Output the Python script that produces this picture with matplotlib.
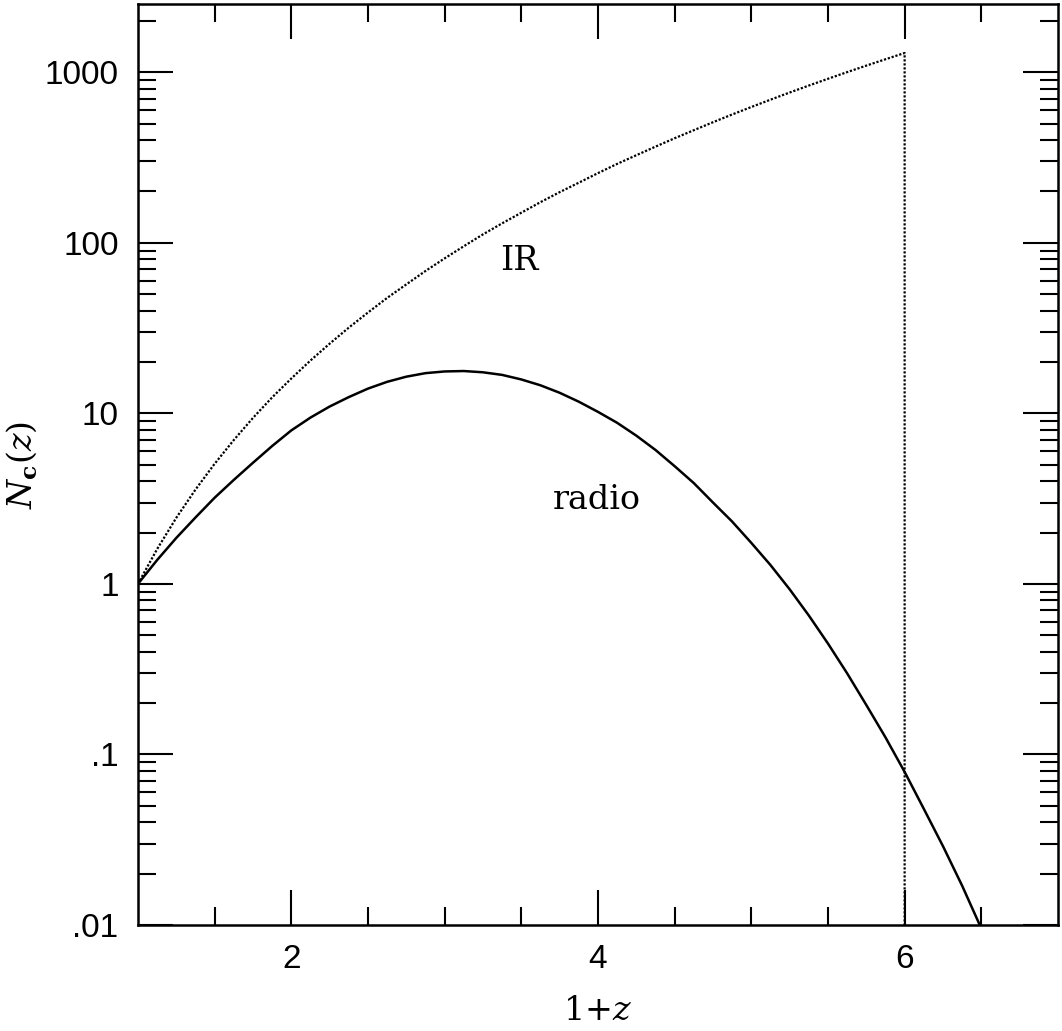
import matplotlib
matplotlib.use("Agg")
import matplotlib.pyplot as plt
from matplotlib.ticker import FixedLocator, FixedFormatter, NullFormatter

plt.rcParams['mathtext.fontset'] = 'dejavuserif'

# ---- data ----
x_radio = [1.0, 1.125, 1.25, 1.375, 1.5, 1.625, 1.75, 1.875, 2.0, 2.125, 2.25, 2.375,
           2.5, 2.625, 2.75, 2.875, 3.0, 3.125, 3.25, 3.375, 3.5, 3.625, 3.75, 3.875,
           4.0, 4.125, 4.25, 4.375, 4.5, 4.625, 4.75, 4.875, 5.0, 5.125, 5.25, 5.375,
           5.5, 5.625, 5.75, 5.875, 6.0, 6.125, 6.25, 6.375, 6.49]
n_radio = [1.0, 1.38, 1.86, 2.45, 3.20, 4.07, 5.13, 6.43, 7.94, 9.44, 10.96, 12.45,
           13.96, 15.3, 16.4, 17.2, 17.6, 17.7, 17.4, 16.8, 15.8, 14.6, 13.2, 11.7,
           10.2, 8.8, 7.4, 6.1, 4.9, 3.9, 3.0, 2.32, 1.74, 1.29, 0.93, 0.653,
           0.447, 0.299, 0.195, 0.126, 0.079, 0.048, 0.029, 0.017, 0.010]

x_ir = [1.0, 1.125, 1.25, 1.375, 1.5, 1.625, 1.75, 1.875, 2.0, 2.125, 2.25, 2.375,
        2.5, 2.625, 2.75, 2.875, 3.0, 3.125, 3.25, 3.375, 3.5, 3.625, 3.75, 3.875,
        4.0, 4.125, 4.25, 4.375, 4.5, 4.625, 4.75, 4.875, 5.0, 5.125, 5.25, 5.375,
        5.5, 5.625, 5.75, 5.875, 6.0, 6.0]
n_ir = [1.0, 1.60, 2.44, 3.57, 5.06, 6.97, 9.4, 12.4, 16.0, 20.4, 25.6, 31.8,
        39.0, 47.5, 57.0, 68.3, 81.0, 95.4, 112.0, 130.0, 150.0, 173.0, 198.0, 225.0,
        256.0, 290.0, 326.0, 366.0, 410.0, 457.0, 509.0, 565.0, 625.0, 690.0, 760.0, 835.0,
        915.0, 1001.0, 1093.0, 1191.0, 1296.0, 0.01]

x_major = [2, 4, 6]
x_major_labels = ["2", "4", "6"]
x_minor = [1.5, 2.5, 3.0, 3.5, 4.5, 5.0, 5.5, 6.5]
y_major = [0.01, 0.1, 1, 10, 100, 1000]
y_major_labels = [".01", ".1", "1", "10", "100", "1000"]

fig = plt.figure(figsize=(10.62, 10.31), dpi=100)
ax = fig.add_axes([0.1299, 0.1028, 0.8663, 0.893])

ax.plot(x_radio, n_radio, color='black', lw=1.8, solid_joinstyle='round')
ax.plot(x_ir, n_ir, color='black', lw=1.6, linestyle=(0, (1, 0.8)))

ax.set_yscale('log')
ax.set_xlim(1, 7)
ax.set_ylim(0.01, 2500)

ax.xaxis.set_major_locator(FixedLocator(x_major))
ax.xaxis.set_major_formatter(FixedFormatter(x_major_labels))
ax.xaxis.set_minor_locator(FixedLocator(x_minor))
ax.xaxis.set_minor_formatter(NullFormatter())

ax.yaxis.set_major_locator(FixedLocator(y_major))
ax.yaxis.set_major_formatter(FixedFormatter(y_major_labels))
y_minor = [m * d for d in [0.01, 0.1, 1, 10, 100, 1000] for m in range(2, 10)]
ax.yaxis.set_minor_locator(FixedLocator(y_minor))
ax.yaxis.set_minor_formatter(NullFormatter())

for s in ax.spines.values():
    s.set_linewidth(1.8)

ax.tick_params(which='both', direction='in', top=True, right=True, width=1.5)
ax.tick_params(which='major', length=25, pad=14)
ax.tick_params(which='minor', length=13)
for lab in ax.get_xticklabels() + ax.get_yticklabels():
    lab.set_fontfamily('Liberation Sans')
    lab.set_fontsize(24)

ax.set_xlabel(r'$1{+}z$', fontsize=24, labelpad=13)
ax.set_ylabel(r'$N_{\mathbf{c}}(z)$', fontsize=24, labelpad=4)

ax.text(3.485, 78, 'IR', fontsize=24, family='DejaVu Serif',
        ha='center', va='center')
ax.text(3.99, 3.1, 'radio', fontsize=24, family='DejaVu Serif',
        ha='center', va='center')

fig.savefig('out.png', dpi=100)
